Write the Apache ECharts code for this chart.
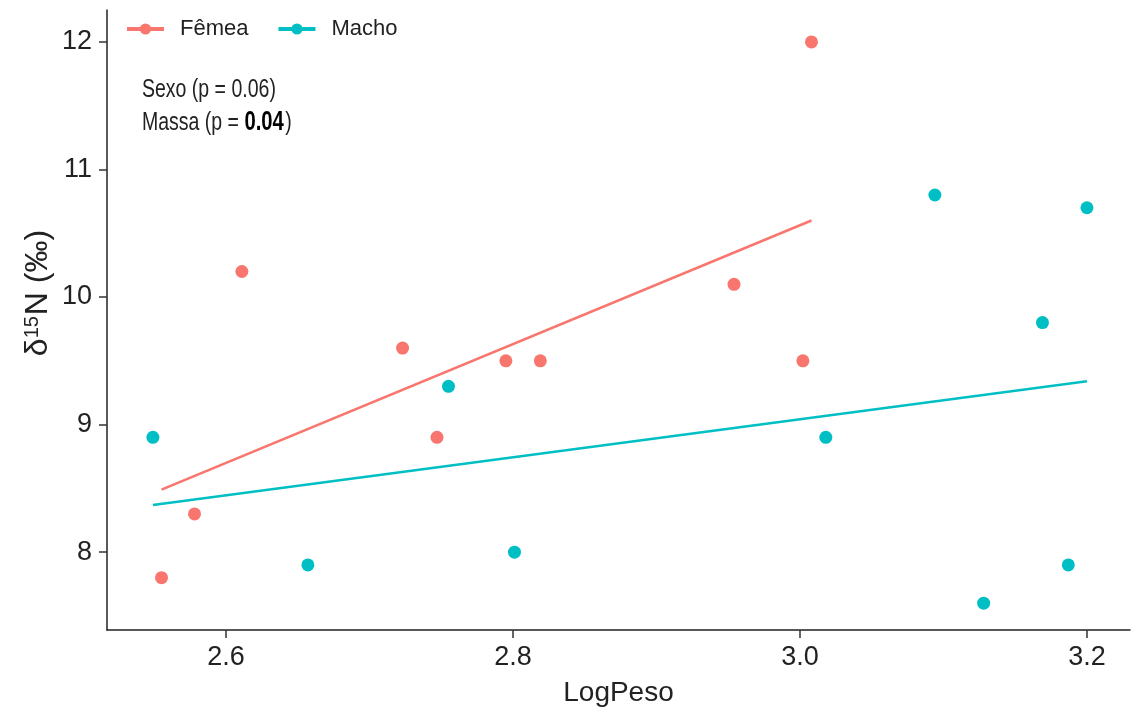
<!DOCTYPE html>
<html><head><meta charset="utf-8">
<script src="https://cdn.jsdelivr.net/npm/echarts@6/dist/echarts.min.js"></script>
<style>html,body{margin:0;padding:0;background:#fff}#c{width:1132px;height:715px}</style>
</head><body><div id="c"></div>
<script>
const femeaX = [2.555, 2.578, 2.611, 2.723, 2.747, 2.795, 2.819, 2.954, 3.002, 3.008];
const femeaY = [7.8, 8.3, 10.2, 9.6, 8.9, 9.5, 9.5, 10.1, 9.5, 12.0];
const machoX = [2.549, 2.657, 2.755, 2.801, 3.018, 3.094, 3.128, 3.169, 3.187, 3.200];
const machoY = [8.9, 7.9, 9.3, 8.0, 8.9, 10.8, 7.6, 9.8, 7.9, 10.7];
const femeaFitX = [2.555, 3.008];
const femeaFitY = [8.49, 10.60];
const machoFitX = [2.549, 3.200];
const machoFitY = [8.37, 9.34];
const xTicks = [2.6, 2.8, 3.0, 3.2];
const yTicks = [8, 9, 10, 11, 12];
const seriesNames = ['Fêmea', 'Macho'];
const colors = ['#F8766D', '#00BFC4'];

const zip = (a, b) => a.map((v, i) => [v, b[i]]);
const sans = "'Liberation Sans', Arial, sans-serif";

const chart = echarts.init(document.getElementById('c'), null, {renderer: 'canvas'});
chart.setOption({
  animation: false,
  backgroundColor: '#fff',
  color: colors,
  grid: {left: 107, right: 2, top: 10, bottom: 85, containLabel: false},
  legend: {
    data: seriesNames,
    left: 120, top: 13,
    itemWidth: 37, itemHeight: 14, itemGap: 28,
    lineStyle: {width: 4},
    textStyle: {fontFamily: sans, fontSize: 22, color: '#222', padding: [0, 0, 0, 11]}
  },
  xAxis: {
    type: 'value', min: 2.517, max: 3.23,
    name: 'LogPeso', nameLocation: 'middle', nameGap: 49,
    nameTextStyle: {fontFamily: sans, fontSize: 28, color: '#222'},
    axisLine: {lineStyle: {color: '#222', width: 1.5}},
    axisTick: {show: true, length: 8, lineStyle: {color: '#333', width: 1.5}, customValues: xTicks},
    axisLabel: {customValues: xTicks, formatter: v => v.toFixed(1), fontFamily: sans, fontSize: 27, color: '#222', margin: 14},
    splitLine: {show: false}
  },
  yAxis: {
    type: 'value', min: 7.39, max: 12.25,
    axisLine: {show: true, lineStyle: {color: '#222', width: 1.5}},
    axisTick: {show: true, length: 8, lineStyle: {color: '#333', width: 1.5}, customValues: yTicks},
    axisLabel: {customValues: yTicks, fontFamily: sans, fontSize: 27, color: '#222', margin: 15},
    splitLine: {show: false}
  },
  graphic: [
    {type: 'text', x: 38, y: 293, rotation: Math.PI / 2, style: {
      text: '{d|δ}{s|15}{n|N (‰)}', align: 'center', verticalAlign: 'middle',
      rich: {
        d: {fontSize: 32, fontFamily: sans, fill: '#222'},
        s: {fontSize: 20, fontFamily: sans, fill: '#222', verticalAlign: 'top', padding: [0, 1, 12, 0]},
        n: {fontSize: 32, fontFamily: sans, fill: '#222'}
      }
    }},
    {type: 'text', x: 142, y: 90, scaleX: 0.75, style: {
      text: 'Sexo (p = 0.06)', fontSize: 26, fontFamily: sans, fill: '#222', verticalAlign: 'middle'
    }},
    {type: 'text', x: 142, y: 123, scaleX: 0.75, style: {
      text: '{a|Massa (p = }{b|0.04}{a|)}', verticalAlign: 'middle',
      rich: {a: {fontSize: 26, fontFamily: sans, fill: '#222'}, b: {fontSize: 27, fontFamily: sans, fontWeight: 'bold', fill: '#000', padding: [0, 2, 0, 0]}}
    }}
  ],
  series: [
    {name: seriesNames[0], type: 'line', data: zip(femeaFitX, femeaFitY), showSymbol: false, symbol: 'circle', symbolSize: 12,
     lineStyle: {width: 2.5, color: colors[0]}, itemStyle: {color: colors[0]}, z: 2},
    {name: seriesNames[1], type: 'line', data: zip(machoFitX, machoFitY), showSymbol: false, symbol: 'circle', symbolSize: 12,
     lineStyle: {width: 2.5, color: colors[1]}, itemStyle: {color: colors[1]}, z: 2},
    {name: seriesNames[0], type: 'scatter', data: zip(femeaX, femeaY), symbolSize: 13, itemStyle: {color: colors[0], opacity: 1}, z: 3},
    {name: seriesNames[1], type: 'scatter', data: zip(machoX, machoY), symbolSize: 13, itemStyle: {color: colors[1], opacity: 1}, z: 3}
  ]
});
</script></body></html>
